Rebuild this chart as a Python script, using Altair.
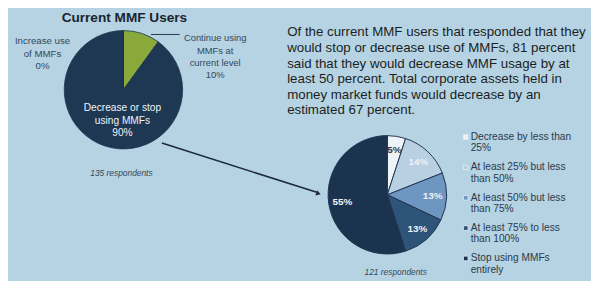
import altair as alt
import pandas as pd

# ---------------- data ----------------
title_text = "Current MMF Users"
pie1_cats = ["Continue using MMFs at current level", "Decrease or stop using MMFs", "Increase use of MMFs"]
pie1_vals = [10, 90, 0]

pie2_cats = ["Decrease by less than 25%", "At least 25% but less than 50%",
             "At least 50% but less than 75%", "At least 75% to less than 100%",
             "Stop using MMFs entirely"]
pie2_vals = [5, 14, 13, 13, 55]
pie2_labels = ["5%", "14%", "13%", "13%", "55%"]
legend_lines = ["Decrease by less than\n25%", "At least 25% but less\nthan 50%",
                "At least 50% but less\nthan 75%", "At least 75% to less\nthan 100%",
                "Stop using MMFs\nentirely"]

paragraph = [
    "Of the current MMF users that responded that they",
    "would stop or decrease use of MMFs, 81 percent",
    "said that they would decrease MMF usage by at",
    "least 50 percent. Total corporate assets held in",
    "money market funds would decrease by an",
    "estimated 67 percent.",
]
resp1 = "135 respondents"
resp2 = "121 respondents"
lbl_increase = "Increase use\nof MMFs\n0%"
lbl_continue = "Continue using\nMMFs at\ncurrent level\n10%"
lbl_decrease = "Decrease or stop\nusing MMFs\n90%"

# ---------------- styles ----------------
all_cats = pie1_cats + pie2_cats
all_colors = ["#89aa3a", "#1e3753", "#ffffff",
              "#eef3f7", "#b9d0e3", "#6d97c0", "#2f5479", "#1c3350"]
color_scale = alt.Scale(domain=all_cats, range=all_colors)
FONT = "Liberation Sans"
OFF = 8  # page margin
BG = "#b5d3e3"

def P(v):
    return v - OFF

d1 = pd.DataFrame({"cat": pie1_cats, "val": pie1_vals, "ord": range(len(pie1_cats))})
d2 = pd.DataFrame({"cat": pie2_cats, "val": pie2_vals, "lab": pie2_labels,
                   "ord": range(len(pie2_cats)), "leg": legend_lines})

pie1 = alt.Chart(d1).mark_arc(radius=60, stroke="#1c3350", strokeWidth=0.8).encode(
    theta=alt.Theta("val:Q", stack=True),
    color=alt.Color("cat:N", scale=color_scale, legend=None),
    order=alt.Order("ord:Q"),
    x=alt.value(P(125)), y=alt.value(P(89)),
)

pie2 = alt.Chart(d2).mark_arc(radius=60, stroke="#1f3550", strokeWidth=1).encode(
    theta=alt.Theta("val:Q", stack=True),
    color=alt.Color("cat:N", scale=color_scale, legend=None),
    order=alt.Order("ord:Q"),
    x=alt.value(P(392.5)), y=alt.value(P(195.5)),
)

pie2_text = alt.Chart(d2).mark_text(radius=46, font=FONT, fontSize=10, fontWeight="bold").encode(
    theta=alt.Theta("val:Q", stack=True),
    order=alt.Order("ord:Q"),
    text="lab:N",
    color=alt.condition("datum.ord == 0", alt.value("#2a3a4c"), alt.value("#eef3f8")),
    x=alt.value(P(392.5)), y=alt.value(P(195.5)),
)

def txt(s, x, y, size=8.5, color="#2b3a4a", align="center", weight="normal", style="normal", baseline="middle", lh=None):
    kw = dict(font=FONT, fontSize=size, color=color, align=align, fontWeight=weight,
              fontStyle=style, baseline=baseline, lineBreak="\n")
    if lh:
        kw["lineHeight"] = lh
    return alt.Chart(pd.DataFrame({"t": [s]})).mark_text(**kw).encode(
        text="t:N", x=alt.value(P(x)), y=alt.value(P(y)))

title = txt(title_text, 126, 16, size=13.8, color="#1a2430", weight="bold")
t_inc = txt(lbl_increase, 43, 40, size=9.8, lh=12.5, color="#34475a")
t_cont = txt(lbl_continue, 218, 37, size=9.5, lh=12.5, color="#34475a")
t_dec = txt(lbl_decrease, 124, 108, size=10.3, lh=12.3, color="#eef3f8")
t_r1 = txt(resp1, 123, 173, size=8.5, style="italic", color="#34475a")
t_r2 = txt(resp2, 401, 274, size=8.5, style="italic", color="#34475a")

leader = alt.Chart(pd.DataFrame({"a": [0]})).mark_rule(color="#2a3a4c", strokeWidth=1).encode(
    x=alt.value(P(153)), x2=alt.value(P(182)), y=alt.value(P(33)), y2=alt.value(P(33)))

arrow = alt.Chart(pd.DataFrame({"a": [0]})).mark_rule(color="#1c2a3a", strokeWidth=1.6).encode(
    x=alt.value(P(164)), x2=alt.value(P(321)), y=alt.value(P(143)), y2=alt.value(P(193)))
arrow_head = alt.Chart(pd.DataFrame({"a": [0]})).mark_point(
    shape="triangle", filled=True, color="#1c2a3a", size=30, angle=108, opacity=1).encode(
    x=alt.value(P(322)), y=alt.value(P(194)))

para = alt.Chart(pd.DataFrame({"t": paragraph, "i": range(len(paragraph))})).mark_text(
    font=FONT, fontSize=13.5, color="#1b1f24", align="left", baseline="middle").encode(
    text="t:N",
    x=alt.value(P(291)),
    y=alt.Y("i:O", scale=alt.Scale(type="point", range=[P(31), P(110)], padding=0), axis=None),
)

leg_y = alt.Y("cat:N", scale=alt.Scale(domain=pie2_cats, type="point", range=[P(137), P(260)], padding=0), axis=None)
leg_sw = alt.Chart(d2).mark_square(size=22, stroke="#e6eef5", strokeWidth=0.8, opacity=1).encode(
    x=alt.value(P(472)), y=leg_y,
    color=alt.Color("cat:N", scale=color_scale, legend=None),
)
leg_tx = alt.Chart(d2).mark_text(font=FONT, fontSize=10.3, color="#2b3a4a", align="left",
                                 baseline="middle", lineBreak="\n", lineHeight=11.5).encode(
    x=alt.value(P(477)), y=leg_y, text="leg:N")

chart = alt.layer(
    pie1, pie2, pie2_text, title, t_inc, t_cont, t_dec, t_r1, t_r2, leader, arrow, arrow_head,
    para, leg_sw, leg_tx
).resolve_scale(y="independent", theta="independent").properties(
    width=591, height=273, padding=0,
    autosize=alt.AutoSizeParams(type="fit", contains="padding"),
    background=BG,
).configure_view(stroke=None)

chart.save("out.html", embed_options={"renderer": "svg", "actions": False})
